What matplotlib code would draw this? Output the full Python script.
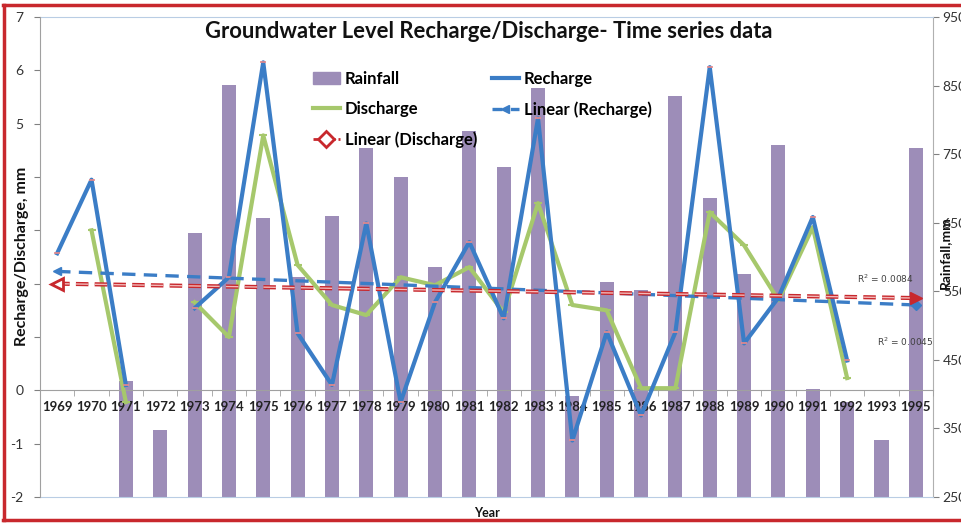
import numpy as np
import matplotlib
matplotlib.use("Agg")
from matplotlib import pyplot as plt
from matplotlib.lines import Line2D
from matplotlib.patches import Patch

plt.rcParams['font.family'] = ['Lato', 'DejaVu Sans']

# data
years = ["1969", "1970", "1971", "1972", "1973", "1974", "1975", "1976", "1977",
         "1978", "1979", "1980", "1981", "1982", "1983", "1984", "1985", "1986",
         "1987", "1988", "1989", "1990", "1991", "1992", "1993", "1995"]
rainfall = [np.nan, np.nan, 419, 348, 635, 851, 657, 571, 660,
            759, 717, 585, 784, 731, 846, 397, 564, 552,
            835, 686, 575, 763, 408, 389, 333, 759]
recharge = [2.57, 3.95, 0.1, np.nan, 1.54, 2.12, 6.15, 1.07, 0.1,
            3.13, -0.22, 1.65, 2.78, 1.35, 5.1, -0.94, 1.09, -0.47,
            1.09, 6.06, 0.88, 1.74, 3.25, 0.56, np.nan, np.nan]
discharge = [np.nan, 3.0, -0.22, np.nan, 1.65, 1.0, 4.78, 2.35, 1.6,
             1.41, 2.12, 1.97, 2.31, 1.46, 3.51, 1.6, 1.5, 0.04,
             0.04, 3.34, 2.72, 1.69, 3.06, 0.23, np.nan, np.nan]
# trend line end values (1969 and 1995)
recharge_trend = [2.23, 1.6]
discharge_trend = [2.0, 1.73]
# left tick labels, the ones under the axis title are not shown
left_ticks = [-2, -1, 0, 1, 2, 3, 4, 5, 6, 7]
left_labels = ["-2", "-1", "0", "", "", "", "", "5", "6", "7"]

x = np.arange(len(years))
x_trend = [x[0], x[-1]]

bar_col = '#9d8db8'
rech_col = '#3b7dc6'
dis_col = '#a6c86c'
red_col = '#c8282d'

fig = plt.figure(figsize=(9.62, 5.24), dpi=100)
ax = fig.add_axes([40/962, 1-497/524, (933-40)/962, (497-17)/524])
ax2 = ax.twinx()
ax.set_zorder(ax2.get_zorder() + 1)
ax.patch.set_visible(False)

# rainfall bars on the right axis
ax2.bar(x, rainfall, width=0.41, color=bar_col, zorder=1)
ax2.set_ylim(250, 950)
ax2.set_yticks(range(250, 951, 100))
ax2.tick_params(axis='y', direction='out', length=4, pad=3, labelsize=10,
                colors='#808080', labelcolor='#333333')
ax2.xaxis.set_visible(False)

# recharge / discharge lines
ax.plot(x, recharge, color=rech_col, lw=3, marker='_', ms=5,
        mec='#e8898a', mew=1.2, zorder=4)
ax.plot(x, discharge, color=dis_col, lw=3, marker='_', ms=6,
        mec=dis_col, mew=1.5, zorder=3)

# trend lines
ax.plot(x_trend, recharge_trend, color=rech_col, lw=2.4, ls=(0, (4, 2.5)), zorder=5)
ax.plot(x_trend[0], recharge_trend[0], marker='<', color=rech_col, ms=6, zorder=5)
ax.plot(x_trend[1], recharge_trend[1], marker='D', color=rech_col, ms=5, zorder=5)
ax.plot(x_trend, discharge_trend, color=red_col, lw=3, ls=(0, (3, 1.5)), zorder=6)
ax.plot(x_trend, discharge_trend, color='#f2b8b8', lw=1, ls=(0, (9, 4.5)), zorder=6)
ax.plot(x_trend[0], discharge_trend[0], marker='<', mfc='white', mec=red_col,
        mew=2, ms=9, zorder=6)
ax.plot(x_trend[1], discharge_trend[1], marker='>', color=red_col, ms=8, zorder=6)

ax.text(24.1, 2.02, "R$^2$ = 0.0084", fontsize=6.5, color='#404040', ha='center',
        family='DejaVu Sans')
ax.text(24.7, 0.83, "R$^2$ = 0.0045", fontsize=6.5, color='#404040', ha='center',
        family='DejaVu Sans')

ax.set_xlim(-0.5, len(years) - 0.5)
ax.set_ylim(-2, 7)
ax.set_yticks(left_ticks)
ax.set_yticklabels(left_labels)
ax.tick_params(axis='y', direction='out', length=4, pad=8, labelsize=10,
               colors='#808080', labelcolor='#333333')

# category axis crossing at zero
ax.spines['bottom'].set_position(('data', 0))
ax.spines['bottom'].set_color('#a0a0a0')
ax.set_xticks(x)
ax.set_xticklabels(years, fontsize=9.5, fontweight='bold', color='#222222')
ax.set_xticks(np.arange(-0.5, len(years), 1), minor=True)
ax.tick_params(axis='x', which='major', length=0, pad=8)
ax.tick_params(axis='x', which='minor', direction='out', length=4, color='#a0a0a0')
for s in ['top', 'right']:
    ax.spines[s].set_visible(False)
ax.spines['left'].set_color('#a0a0a0')
ax2.spines['top'].set_color('#b9cde4')
ax2.spines['bottom'].set_color('#b9cde4')
ax2.spines['left'].set_visible(False)
ax2.spines['right'].set_color('#b0b0b0')

fig.text(22/962, 1-256/524, "Recharge/Discharge, mm", rotation=90, fontsize=11.5,
         fontweight='bold', ha='center', va='center', color='#111111')
fig.text(945/962, 1-253/524, "Rainfall,mm", rotation=90, fontsize=10,
         fontweight='bold', ha='center', va='center', color='#111111')
fig.text(487/962, 1-513/524, "Year", fontsize=9, fontweight='bold',
         ha='center', va='center', color='#111111')
fig.text(489/962, 1-31/524, "Groundwater Level Recharge/Discharge- Time series data",
         fontsize=15.8, fontweight='bold', ha='center', va='center', color='#111111')

# legend
handles = [
    Patch(color=bar_col),
    Line2D([], [], color=dis_col, lw=3),
    Line2D([], [], color=red_col, lw=2, ls=(0, (2, 1)), marker='D', mfc='white',
           mec=red_col, mew=2, ms=8, markevery=[0]),
    Line2D([], [], color=rech_col, lw=3),
    Line2D([], [], color=rech_col, lw=2.4, ls=(0, (3, 2.5)), marker='<', ms=6),
]
labels = ["Rainfall", "Discharge", "Linear (Discharge)", "Recharge", "Linear (Recharge)"]
fig.legend(handles, labels, ncol=2, loc='upper left', bbox_to_anchor=(298/962, 1-56/524),
           frameon=False, prop={'weight': 'bold', 'size': 12}, handlelength=1.6,
           handletextpad=0.3, columnspacing=0.9, labelspacing=0.85)

# red frame
for coords in [([3/962, 1], [1-5/524, 1-5/524]),
               ([4/962, 4/962], [4/524, 1-5/524]),
               ([3/962, 1], [4/524, 4/524])]:
    fig.add_artist(Line2D(coords[0], coords[1], color=red_col, lw=2.5))

fig.savefig("out.png", dpi=100)
